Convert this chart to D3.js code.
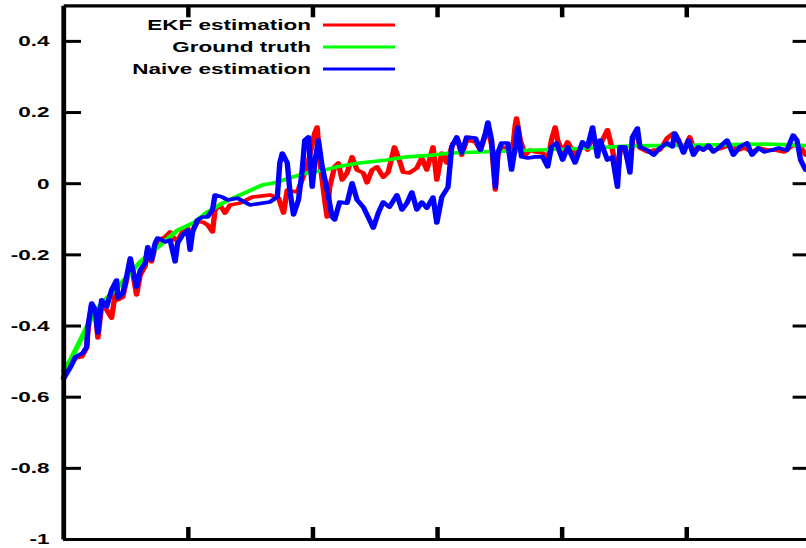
<!DOCTYPE html>
<html>
<head>
<meta charset="utf-8">
<script src="https://cdn.jsdelivr.net/npm/d3@7"></script>
<style>
  body { margin: 0; background: #fff; }
  svg { display: block; }
</style>
</head>
<body>
<div id="chart"></div>
<script>
// series as [step, value]
const ekf = [
  [0,-0.548],[6,-0.511],[10,-0.491],[15,-0.488],[19,-0.463],[20,-0.413],[23,-0.342],[26,-0.362],
  [28,-0.435],[31,-0.342],[35,-0.356],[39,-0.379],[43,-0.286],[44,-0.328],[48,-0.320],[51,-0.272],
  [54,-0.221],[56,-0.250],[59,-0.314],[62,-0.258],[66,-0.233],[68,-0.188],[71,-0.221],[74,-0.179],
  [76,-0.160],[82,-0.151],[86,-0.137],[90,-0.160],[92,-0.160],[96,-0.137],[100,-0.126],[102,-0.160],
  [104,-0.132],[108,-0.109],[112,-0.109],[116,-0.117],[120,-0.137],[122,-0.075],[126,-0.061],[130,-0.084],
  [134,-0.061],[142,-0.056],[152,-0.039],[166,-0.033],[173,-0.042],[177,-0.084],[180,-0.019],[188,-0.025],
  [196,0.046],[202,0.141],[204,0.158],[206,0.065],[210,-0.047],[212,-0.095],[214,-0.011],[218,0.046],
  [221,0.057],[224,0.009],[228,0.029],[232,0.074],[236,0.037],[241,0.029],[244,0.001],[248,0.037],
  [252,0.046],[257,0.017],[261,0.031],[266,0.102],[269,0.074],[273,0.031],[278,0.029],[284,0.043],
  [288,0.071],[292,0.037],[297,0.102],[300,0.009],[304,0.085],[308,0.057],[313,0.113],[317,0.121],
  [320,0.079],[324,0.121],[331,0.116],[335,0.093],[339,0.135],[341,0.155],[344,0.107],[347,-0.019],
  [349,0.079],[352,0.102],[357,0.099],[360,0.065],[363,0.164],[364,0.183],[367,0.121],[371,0.079],
  [375,0.093],[379,0.088],[385,0.085],[389,0.065],[392,0.121],[395,0.158],[397,0.121],[401,0.088],
  [405,0.116],[411,0.079],[417,0.107],[421,0.093],[425,0.135],[429,0.088],[433,0.121],[437,0.150],
  [441,0.093],[445,0.015],[447,0.093],[451,0.093],[455,0.043],[457,0.121],[461,0.144],[463,0.099],
  [469,0.088],[474,0.093],[479,0.093],[485,0.127],[490,0.141],[494,0.116],[498,0.093],[503,0.130],
  [507,0.088],[511,0.099],[518,0.099],[523,0.093],[529,0.099],[535,0.107],[542,0.093],[547,0.099],
  [553,0.088],[559,0.099],[566,0.093],[571,0.093],[579,0.088],[586,0.107],[592,0.102],[596,0.079],
  [600,0.079]
];

const truth = [
  [0,-0.531],[6,-0.497],[10,-0.469],[16,-0.427],[22,-0.384],[30,-0.342],[44,-0.292],[62,-0.221],
  [78,-0.174],[92,-0.132],[106,-0.109],[116,-0.081],[128,-0.056],[142,-0.033],[160,-0.005],[170,0.001],
  [184,0.017],[196,0.029],[206,0.034],[220,0.046],[238,0.057],[260,0.065],[276,0.074],[297,0.079],
  [311,0.085],[351,0.090],[405,0.096],[457,0.105],[511,0.107],[565,0.110],[600,0.105]
];

const naive = [
  [0,-0.553],[6,-0.517],[10,-0.488],[16,-0.477],[19,-0.460],[20,-0.404],[23,-0.337],[26,-0.356],
  [27,-0.393],[28,-0.421],[31,-0.328],[35,-0.348],[39,-0.300],[43,-0.272],[44,-0.323],[48,-0.309],
  [51,-0.264],[54,-0.210],[56,-0.244],[59,-0.292],[62,-0.244],[66,-0.224],[68,-0.179],[71,-0.216],
  [74,-0.168],[76,-0.154],[82,-0.165],[86,-0.160],[90,-0.221],[92,-0.168],[96,-0.146],[100,-0.132],
  [102,-0.188],[104,-0.137],[108,-0.103],[112,-0.095],[116,-0.095],[120,-0.075],[122,-0.033],[128,-0.039],
  [132,-0.047],[140,-0.042],[150,-0.061],[166,-0.053],[172,-0.039],[174,0.057],[176,0.085],[180,0.057],
  [182,-0.019],[185,-0.089],[189,-0.047],[192,0.037],[194,0.121],[197,0.130],[200,-0.011],[202,0.057],
  [205,0.121],[208,0.046],[212,-0.019],[216,-0.095],[218,-0.103],[222,-0.053],[228,-0.056],[232,0.001],
  [236,-0.047],[241,-0.067],[246,-0.103],[249,-0.126],[253,-0.084],[257,-0.053],[262,-0.067],[268,-0.033],
  [272,-0.075],[276,-0.056],[280,-0.025],[284,-0.075],[288,-0.053],[292,-0.070],[297,-0.039],[300,-0.112],
  [304,-0.039],[309,-0.011],[312,0.102],[316,0.130],[320,0.085],[324,0.130],[331,0.127],[335,0.093],
  [339,0.141],[341,0.172],[344,0.121],[347,-0.011],[349,0.085],[352,0.113],[357,0.113],[360,0.037],
  [363,0.102],[365,0.158],[368,0.074],[373,0.071],[379,0.074],[385,0.074],[389,0.046],[392,0.102],
  [396,0.113],[401,0.065],[405,0.102],[411,0.057],[417,0.116],[421,0.102],[425,0.158],[429,0.074],
  [431,0.121],[437,0.065],[441,0.074],[445,-0.011],[447,0.102],[451,0.102],[453,0.065],[455,0.029],
  [457,0.130],[461,0.155],[463,0.102],[469,0.093],[474,0.079],[479,0.099],[485,0.113],[489,0.102],
  [491,0.141],[494,0.121],[498,0.085],[502,0.121],[506,0.079],[510,0.102],[514,0.093],[518,0.107],
  [522,0.088],[527,0.102],[533,0.121],[538,0.079],[543,0.102],[549,0.113],[553,0.079],[558,0.099],
  [563,0.088],[569,0.093],[574,0.099],[581,0.093],[586,0.135],[589,0.121],[592,0.065],[596,0.037],
  [600,0.031]
];

const seriesNames = ["EKF estimation", "Ground truth", "Naive estimation"];
const seriesColors = ["#ff0000", "#00ff00", "#0000ff"];
const yTicks = [-1, -0.8, -0.6, -0.4, -0.2, 0, 0.2, 0.4];
const xTicks = [100, 200, 300, 400, 500];

const width = 806, height = 548;
const sx = 1.5; // the source picture is stretched sideways

const svg = d3.select("#chart").append("svg")
  .attr("width", width)
  .attr("height", height);

const g = svg.append("g").attr("transform", `scale(${sx},1)`);

const x = d3.scaleLinear().domain([0, 600]).range([63 / sx, 810.6 / sx]);
const y = d3.scaleLinear().domain([-1, 0.5]).range([539, 5.3]);

const fmt = d => String(+d.toFixed(1));

function styleAxis(sel) {
  sel.selectAll(".domain").attr("stroke", "#000").attr("stroke-width", 3.2);
  sel.selectAll(".tick line").attr("stroke", "#000").attr("stroke-width", 3);
  sel.selectAll(".tick text")
    .attr("fill", "#000")
    .attr("font-family", "'Liberation Sans', Arial, sans-serif")
    .attr("font-size", 15)
    .attr("font-weight", "bold");
}

// data lines, in gnuplot order
const line = d3.line().x(d => x(d[0])).y(d => y(d[1]));
[ekf, truth, naive].forEach((data, i) => {
  g.append("path")
    .datum(data)
    .attr("fill", "none")
    .attr("stroke", seriesColors[i])
    .attr("stroke-width", 3.6)
    .attr("stroke-linejoin", "round")
    .attr("d", line);
});

// frame with inward ticks on all four sides
g.append("g")
  .attr("transform", `translate(${x.range()[0]},0)`)
  .call(d3.axisLeft(y).tickValues(yTicks).tickFormat(fmt).tickSizeInner(-12).tickSizeOuter(0).tickPadding(9))
  .call(styleAxis);

g.append("g")
  .attr("transform", `translate(${x.range()[1]},0)`)
  .call(d3.axisRight(y).tickValues(yTicks).tickFormat("").tickSizeInner(-12).tickSizeOuter(0))
  .call(styleAxis);

g.append("g")
  .attr("transform", `translate(0,${y.range()[0]})`)
  .call(d3.axisBottom(x).tickValues(xTicks).tickFormat("").tickSizeInner(-12).tickSizeOuter(0))
  .call(styleAxis);

g.append("g")
  .attr("transform", `translate(0,${y.range()[1]})`)
  .call(d3.axisTop(x).tickValues(xTicks).tickFormat("").tickSizeInner(-12).tickSizeOuter(0))
  .call(styleAxis);

// key, top left
const key = g.append("g");
seriesNames.forEach((name, i) => {
  const ky = 25 + i * 22;
  key.append("text")
    .attr("x", 311 / sx)
    .attr("y", ky)
    .attr("dy", "0.35em")
    .attr("text-anchor", "end")
    .attr("font-family", "'Liberation Sans', Arial, sans-serif")
    .attr("font-size", 15)
    .attr("font-weight", "bold")
    .attr("fill", "#000")
    .text(name);
  key.append("line")
    .attr("x1", 323 / sx)
    .attr("x2", 395 / sx)
    .attr("y1", ky)
    .attr("y2", ky)
    .attr("stroke", seriesColors[i])
    .attr("stroke-width", 3);
});
</script>
</body>
</html>
